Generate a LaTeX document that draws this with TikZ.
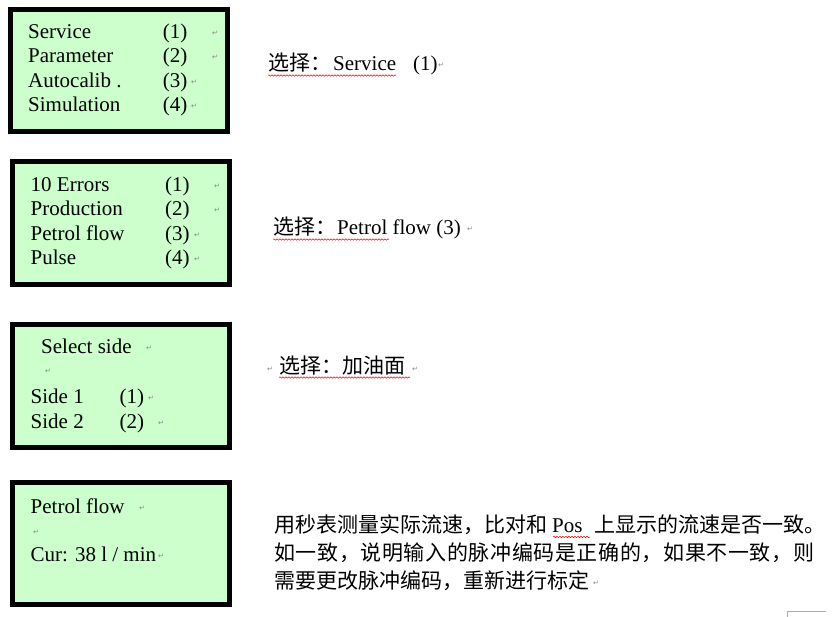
\documentclass[tikz,border=0pt]{standalone}
\usepackage{fontspec}
\setmainfont{Liberation Serif}
\newfontfamily\cjk{Noto Sans CJK SC}
\newfontfamily\symf{DejaVu Sans}
\usetikzlibrary{decorations.pathmorphing}
\definecolor{lcd}{RGB}{204,255,204}
\definecolor{retgray}{RGB}{135,135,135}
\definecolor{markgray}{RGB}{170,170,170}
\begin{document}
\begin{tikzpicture}[x=1pt,y=-1pt,
  lcdbox/.style={draw=black,line width=5pt,fill=lcd,anchor=north west,inner sep=0pt,outer sep=0pt},
  txt/.style={anchor=base west,inner sep=0pt,font=\fontsize{21}{24}\selectfont},
  ctxt/.style={anchor=base west,inner sep=0pt,font=\fontsize{21}{24}\selectfont\cjk},
  ret/.style={anchor=base west,inner sep=0pt,text=retgray,font=\fontsize{7}{7}\selectfont\symf},
  wavy/.style={draw=red,line width=0.5pt,decorate,decoration={snake,amplitude=0.7pt,segment length=3pt}}]
\useasboundingbox (0,0) rectangle (832,617);
\fill[white] (0,0) rectangle (832,617);

% ---------- LCD boxes ----------
\node[lcdbox,minimum width=217pt,minimum height=122pt] (box1) at (10.5,9.5) {};
\node[lcdbox,minimum width=217pt,minimum height=123pt] (box2) at (12.5,161.5) {};
\node[lcdbox,minimum width=217pt,minimum height=123pt] (box3) at (12.5,324.5) {};
\node[lcdbox,minimum width=217pt,minimum height=122pt] (box4) at (12.5,482.5) {};

% ---------- box 1 ----------
\node[txt] (b1a) at (28,38.3) {Service};
\node[txt] (b1an) at (162.7,38.3) {(1)};
\node[ret] (b1ar) at (212,35.3) {↵};
\node[txt] (b1b) at (28,62.7) {Parameter};
\node[txt] (b1bn) at (162.7,62.7) {(2)};
\node[ret] (b1br) at (212,59.7) {↵};
\node[txt] (b1c) at (28,87.3) {Autocalib .};
\node[txt] (b1cn) at (162.7,87.3) {(3)};
\node[ret] (b1cr) at (191,84.3) {↵};
\node[txt] (b1d) at (28,111.3) {Simulation};
\node[txt] (b1dn) at (162.7,111.3) {(4)};
\node[ret] (b1dr) at (191,108.3) {↵};

% ---------- box 2 ----------
\node[txt] (b2a) at (30.5,191.7) {10 Errors};
\node[txt] (b2an) at (165,191.7) {(1)};
\node[ret] (b2ar) at (214,188.7) {↵};
\node[txt] (b2b) at (30.5,215.7) {Production};
\node[txt] (b2bn) at (165,215.7) {(2)};
\node[ret] (b2br) at (214,212.7) {↵};
\node[txt] (b2c) at (30.5,240.5) {Petrol flow};
\node[txt] (b2cn) at (165,240.5) {(3)};
\node[ret] (b2cr) at (194,237.5) {↵};
\node[txt] (b2d) at (30.5,265) {Pulse};
\node[txt] (b2dn) at (165,265) {(4)};
\node[ret] (b2dr) at (194,262) {↵};

% ---------- box 3 ----------
\node[txt] (b3a) at (41,353.5) {Select side};
\node[ret] (b3ar) at (146,350.5) {↵};
\node[ret] (b3br) at (45,373) {↵};
\node[txt] (b3c) at (30.5,403) {Side 1};
\node[txt] (b3cn) at (119.5,403) {(1)};
\node[ret] (b3cr) at (148,400) {↵};
\node[txt] (b3d) at (30.5,428) {Side 2};
\node[txt] (b3dn) at (119.5,428) {(2)};
\node[ret] (b3dr) at (158,425) {↵};

% ---------- box 4 ----------
\node[txt] (b4a) at (30.5,513) {Petrol flow};
\node[ret] (b4ar) at (139,510) {↵};
\node[ret] (b4br) at (33,534) {↵};
\node[txt] (b4c) at (30.5,561) {Cur: 38 l / min};
\node[ret] (b4cr) at (158,558) {↵};

% ---------- right column ----------
\node[ctxt] (s1) at (268,71) {选择：};
\node[txt] (s1b) at (333,71) {Service};
\node[txt] (s1c) at (413,71) {(1)};
\node[ret] (s1r) at (438,68) {↵};
\draw[wavy] (268,75.5) -- (396,75.5);

\node[ctxt] (s2) at (273,235) {选择：};
\node[txt] (s2b) at (337,235) {Petrol flow (3)};
\node[ret] (s2r) at (467,232) {↵};
\draw[wavy] (273,239.5) -- (389,239.5);

\node[ret] (s3l) at (267,371) {↵};
\node[ctxt] (s3) at (279,373) {选择：加油面};
\node[ret] (s3r) at (412,371) {↵};
\draw[wavy] (279,377.5) -- (410,377.5);

% ---------- paragraph ----------
\node[ctxt] (p1a) at (274,532.5) {用秒表测量实际流速，比对和};
\node[txt] (p1b) at (552,532.5) {Pos};
\node[ctxt] (p1c) at (594,532.5) {上显示的流速是否一致。};
\draw[wavy] (553,537) -- (590,537);
\node[ctxt] (p2) at (274,560.5) {\hbox to 540pt{如\hfil 一\hfil 致\hfil ，\hfil 说\hfil 明\hfil 输\hfil 入\hfil 的\hfil 脉\hfil 冲\hfil 编\hfil 码\hfil 是\hfil 正\hfil 确\hfil 的\hfil ，\hfil 如\hfil 果\hfil 不\hfil 一\hfil 致\hfil ，\hfil 则}};
\node[ctxt] (p3) at (274,588.5) {需要更改脉冲编码，重新进行标定};
\node[ret] (p3r) at (593,585.5) {↵};

% ---------- page corner mark ----------
\draw[markgray,line width=0.8pt] (826,611) -- (787,611) -- (787,617);
\end{tikzpicture}
\end{document}
